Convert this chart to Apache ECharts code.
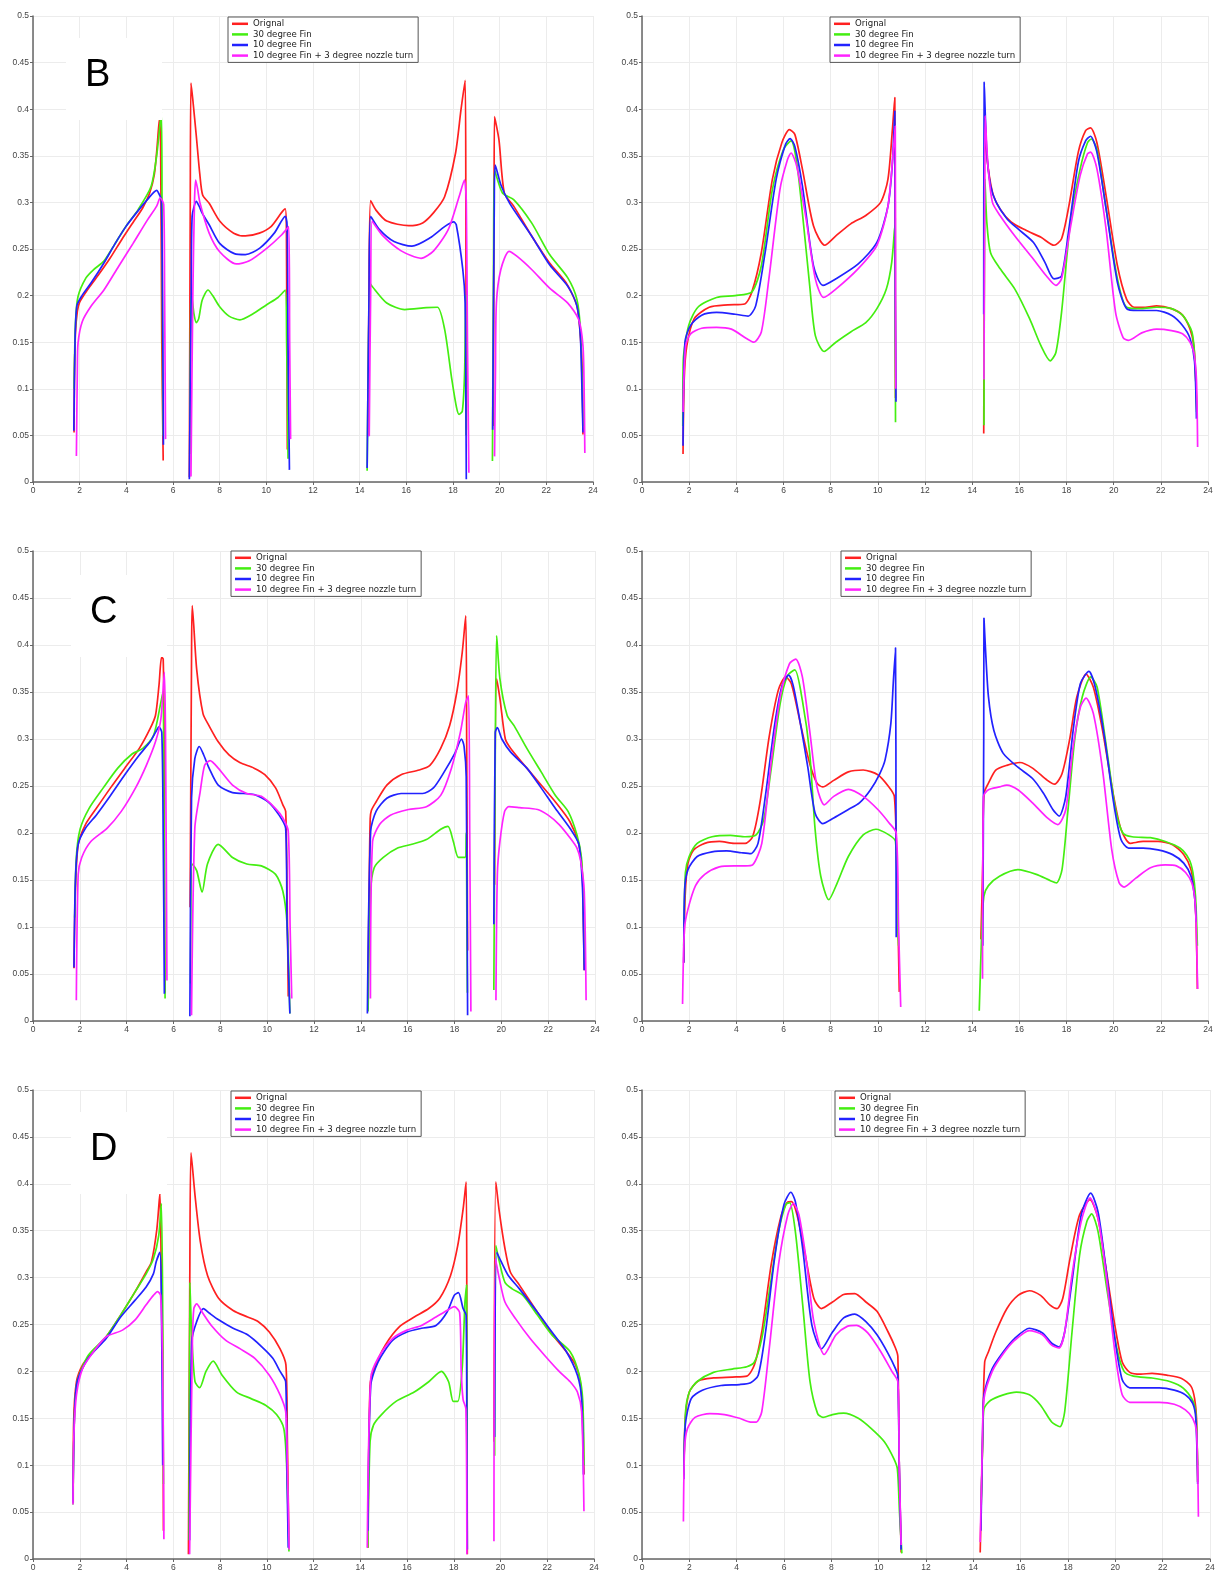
<!DOCTYPE html>
<html>
<head>
<meta charset="utf-8">
<script src="https://cdn.jsdelivr.net/npm/echarts@6.0.0/dist/echarts.min.js"></script>
<style>
  html, body { margin: 0; padding: 0; background: #ffffff; }
  #chart { width: 1222px; height: 1573px; }
</style>
</head>
<body>
<div id="chart"></div>
<script>
// ---- axis ticks and legend names ----
const xTicks = { min: 0, max: 24, step: 2 };
const yTicks = { min: 0, max: 0.5, step: 0.05 };
const seriesNames = ['Orignal', '30 degree Fin', '10 degree Fin', '10 degree Fin + 3 degree nozzle turn'];
const seriesColors = ['#ff2020', '#44ee11', '#2222ff', '#ff22ff'];
const panelLetters = ['B', '', 'C', '', 'D', ''];

// ---- panel B, left: each series is a list of separate segments of [x, y] ----
const bLeftOrignal = [
  [[1.76,0.053],[1.78,0.12],[1.82,0.16],[1.9,0.183],[2.0,0.193],[2.3,0.205],[2.8,0.222],[3.3,0.24],[3.8,0.26],[4.3,0.279],[4.7,0.294],[5.0,0.31],[5.2,0.33],[5.32,0.36],[5.42,0.39],[5.47,0.36],[5.52,0.15],[5.58,0.023]],
  [[6.7,0.005],[6.74,0.3],[6.77,0.428],[6.85,0.41],[7.0,0.371],[7.15,0.33],[7.27,0.308],[7.55,0.299],[8.0,0.28],[8.6,0.267],[9.1,0.264],[9.7,0.267],[10.2,0.274],[10.65,0.289],[10.81,0.293],[10.86,0.27],[10.9,0.035]],
  [[14.35,0.049],[14.4,0.2],[14.47,0.302],[14.69,0.292],[15.16,0.28],[16.1,0.275],[16.7,0.278],[17.17,0.289],[17.64,0.306],[18.11,0.353],[18.34,0.399],[18.52,0.431],[18.55,0.3],[18.57,0.056]],
  [[19.73,0.06],[19.76,0.3],[19.78,0.392],[19.97,0.367],[20.2,0.31],[20.6,0.296],[21.37,0.264],[22.14,0.235],[22.84,0.214],[23.31,0.189],[23.46,0.156],[23.54,0.121],[23.57,0.051]]
];
const bLeft30 = [
  [[1.76,0.1],[1.82,0.17],[1.93,0.199],[2.27,0.219],[2.6,0.228],[3.04,0.237],[3.5,0.255],[4.0,0.275],[4.5,0.292],[5.06,0.317],[5.3,0.35],[5.5,0.397],[5.53,0.3],[5.56,0.1],[5.58,0.05]],
  [[6.72,0.03],[6.76,0.19],[6.8,0.2],[6.9,0.18],[7.0,0.171],[7.1,0.175],[7.25,0.195],[7.5,0.206],[7.7,0.2],[8.0,0.188],[8.4,0.178],[8.87,0.174],[9.4,0.18],[10.0,0.19],[10.5,0.198],[10.81,0.206],[10.87,0.15],[10.93,0.025]],
  [[14.32,0.012],[14.38,0.15],[14.45,0.213],[14.53,0.21],[15.16,0.192],[15.93,0.185],[16.86,0.187],[17.33,0.1875],[17.64,0.164],[17.95,0.11],[18.15,0.08],[18.26,0.0725],[18.4,0.076],[18.5,0.12],[18.54,0.2],[18.56,0.05]],
  [[19.69,0.0225],[19.74,0.25],[19.78,0.335],[20.12,0.31],[20.6,0.303],[21.37,0.278],[22.14,0.244],[22.92,0.219],[23.31,0.196],[23.46,0.164],[23.54,0.099],[23.57,0.06]]
];
const bLeft10 = [
  [[1.75,0.055],[1.8,0.15],[1.88,0.189],[2.1,0.2],[2.5,0.214],[3.04,0.235],[3.5,0.255],[3.98,0.274],[4.44,0.289],[4.9,0.303],[5.3,0.313],[5.42,0.308],[5.5,0.303],[5.55,0.2],[5.59,0.04]],
  [[6.7,0.003],[6.78,0.2],[6.82,0.285],[7.0,0.301],[7.12,0.296],[7.24,0.289],[7.55,0.276],[8.0,0.256],[8.63,0.245],[9.1,0.244],[9.72,0.251],[10.34,0.267],[10.81,0.285],[10.89,0.274],[10.93,0.15],[10.99,0.013]],
  [[14.32,0.015],[14.4,0.2],[14.47,0.285],[14.84,0.271],[15.47,0.258],[16.24,0.253],[17.02,0.262],[17.64,0.274],[18.03,0.279],[18.14,0.276],[18.42,0.228],[18.52,0.192],[18.55,0.1],[18.57,0.003]],
  [[19.7,0.056],[19.77,0.3],[19.81,0.34],[20.05,0.319],[20.43,0.299],[21.37,0.264],[22.14,0.233],[22.92,0.21],[23.31,0.189],[23.46,0.156],[23.54,0.085],[23.57,0.053]]
];
const bLeft10Nozzle = [
  [[1.86,0.028],[1.9,0.12],[1.93,0.149],[2.11,0.172],[2.5,0.189],[3.04,0.206],[3.66,0.231],[4.29,0.256],[4.9,0.281],[5.3,0.296],[5.45,0.305],[5.6,0.298],[5.64,0.2],[5.68,0.046]],
  [[6.77,0.006],[6.85,0.2],[6.92,0.3],[6.97,0.324],[7.05,0.315],[7.16,0.299],[7.55,0.267],[8.0,0.247],[8.71,0.234],[9.25,0.237],[10.03,0.251],[10.65,0.265],[10.96,0.274],[11.0,0.15],[11.04,0.046]],
  [[14.41,0.049],[14.47,0.2],[14.53,0.28],[15.0,0.264],[15.78,0.248],[16.63,0.24],[17.17,0.248],[17.8,0.271],[18.26,0.306],[18.49,0.324],[18.57,0.3],[18.62,0.15],[18.68,0.01]],
  [[19.78,0.0275],[19.82,0.12],[19.86,0.192],[20.05,0.228],[20.4,0.2475],[20.75,0.242],[21.37,0.228],[22.14,0.208],[22.92,0.192],[23.39,0.174],[23.57,0.146],[23.62,0.1],[23.65,0.031]]
];

// ---- panel B, right ----
const bRightOrignal = [
  [[1.74,0.03],[1.79,0.11],[1.9,0.146],[2.21,0.175],[2.85,0.1875],[3.64,0.19],[4.35,0.191],[4.66,0.204],[5.06,0.246],[5.53,0.325],[5.93,0.364],[6.25,0.378],[6.48,0.373],[6.8,0.336],[7.27,0.275],[7.75,0.254],[8.22,0.264],[8.85,0.277],[9.49,0.286],[10.12,0.3],[10.43,0.325],[10.62,0.379],[10.72,0.4125],[10.74,0.2],[10.75,0.09]],
  [[14.49,0.052],[14.51,0.2],[14.54,0.39],[14.62,0.35],[14.86,0.311],[15.18,0.293],[15.65,0.279],[16.28,0.27],[16.92,0.2625],[17.47,0.254],[17.79,0.261],[18.1,0.296],[18.5,0.354],[18.81,0.377],[19.02,0.38],[19.29,0.364],[19.68,0.307],[20.16,0.232],[20.55,0.196],[20.87,0.1875],[21.34,0.1875],[21.82,0.189],[22.45,0.186],[22.92,0.179],[23.24,0.164],[23.4,0.146],[23.48,0.11],[23.53,0.075]]
];
const bRight30 = [
  [[1.73,0.06],[1.75,0.13],[1.98,0.168],[2.37,0.1875],[3.16,0.198],[3.95,0.2],[4.66,0.204],[5.06,0.232],[5.53,0.314],[6.0,0.357],[6.32,0.366],[6.56,0.343],[6.8,0.289],[7.11,0.211],[7.35,0.157],[7.72,0.14],[8.22,0.15],[8.85,0.161],[9.49,0.171],[9.96,0.186],[10.36,0.207],[10.59,0.236],[10.72,0.275],[10.74,0.15],[10.75,0.064]],
  [[14.5,0.061],[14.52,0.25],[14.54,0.325],[14.62,0.279],[14.78,0.246],[15.18,0.229],[15.81,0.207],[16.44,0.175],[16.92,0.146],[17.31,0.13],[17.55,0.139],[17.79,0.182],[18.18,0.282],[18.58,0.336],[18.89,0.364],[19.05,0.368],[19.29,0.357],[19.68,0.293],[20.16,0.218],[20.55,0.1875],[21.19,0.186],[21.82,0.1875],[22.45,0.186],[22.92,0.179],[23.32,0.161],[23.45,0.129],[23.52,0.075]]
];
const bRight10 = [
  [[1.74,0.039],[1.82,0.15],[2.06,0.168],[2.53,0.179],[3.16,0.182],[3.95,0.18],[4.5,0.178],[4.82,0.189],[5.22,0.246],[5.69,0.325],[6.09,0.3625],[6.28,0.3685],[6.48,0.36],[6.8,0.318],[7.27,0.232],[7.67,0.211],[8.22,0.218],[9.17,0.234],[9.96,0.257],[10.43,0.296],[10.62,0.343],[10.72,0.398],[10.74,0.2],[10.77,0.086]],
  [[14.49,0.18],[14.51,0.429],[14.62,0.354],[14.78,0.318],[15.02,0.3],[15.49,0.282],[15.97,0.271],[16.6,0.257],[17.08,0.236],[17.47,0.218],[17.79,0.221],[18.1,0.271],[18.5,0.343],[18.81,0.366],[19.02,0.371],[19.29,0.354],[19.68,0.293],[20.16,0.214],[20.55,0.186],[21.03,0.184],[21.82,0.184],[22.45,0.179],[22.92,0.168],[23.24,0.154],[23.43,0.129],[23.51,0.068]]
];
const bRight10Nozzle = [
  [[1.74,0.075],[1.85,0.146],[2.06,0.159],[2.53,0.165],[3.16,0.166],[3.79,0.164],[4.43,0.154],[4.74,0.15],[5.06,0.161],[5.38,0.218],[5.85,0.314],[6.17,0.346],[6.32,0.353],[6.56,0.339],[6.96,0.282],[7.35,0.218],[7.7,0.198],[8.22,0.207],[9.17,0.229],[9.96,0.254],[10.43,0.296],[10.67,0.36],[10.74,0.382],[10.75,0.2],[10.76,0.1]],
  [[14.5,0.11],[14.53,0.3],[14.55,0.393],[14.67,0.339],[14.86,0.3],[15.18,0.286],[15.81,0.264],[16.6,0.239],[17.15,0.221],[17.55,0.211],[17.79,0.218],[18.18,0.275],[18.58,0.329],[18.89,0.352],[19.02,0.354],[19.29,0.336],[19.68,0.271],[20.08,0.182],[20.4,0.155],[20.63,0.152],[21.19,0.16],[21.82,0.164],[22.45,0.1625],[22.92,0.159],[23.24,0.15],[23.4,0.139],[23.51,0.11],[23.56,0.0375]]
];

// ---- panel C, left ----
const cLeftOrignal = [
  [[1.75,0.056],[1.81,0.138],[1.93,0.188],[2.24,0.209],[2.7,0.226],[3.31,0.248],[3.92,0.269],[4.54,0.29],[5.0,0.311],[5.23,0.325],[5.38,0.357],[5.49,0.387],[5.56,0.385],[5.6,0.3],[5.62,0.1],[5.64,0.03]],
  [[6.71,0.121],[6.77,0.385],[6.8,0.442],[6.99,0.374],[7.26,0.327],[7.52,0.314],[7.91,0.297],[8.37,0.283],[8.83,0.275],[9.44,0.269],[9.9,0.262],[10.36,0.248],[10.67,0.23],[10.79,0.223],[10.85,0.138],[10.9,0.026]],
  [[14.3,0.026],[14.36,0.15],[14.4,0.215],[14.45,0.224],[14.65,0.233],[15.11,0.251],[15.72,0.262],[16.49,0.267],[16.95,0.272],[17.41,0.29],[17.79,0.314],[18.1,0.35],[18.33,0.392],[18.48,0.431],[18.52,0.3],[18.56,0.075]],
  [[19.71,0.145],[19.8,0.364],[19.94,0.343],[20.17,0.3],[20.4,0.29],[21.09,0.269],[21.7,0.251],[22.31,0.233],[22.93,0.212],[23.31,0.188],[23.46,0.156],[23.51,0.1],[23.54,0.054]]
];
const cLeft30 = [
  [[1.78,0.11],[1.85,0.174],[2.01,0.204],[2.39,0.226],[3.0,0.248],[3.62,0.269],[4.23,0.284],[4.69,0.29],[5.15,0.304],[5.46,0.339],[5.55,0.35],[5.6,0.2],[5.64,0.024]],
  [[6.73,0.04],[6.8,0.167],[6.99,0.16],[7.22,0.137],[7.45,0.167],[7.91,0.188],[8.52,0.174],[9.13,0.167],[9.75,0.165],[10.36,0.156],[10.67,0.138],[10.85,0.103],[10.97,0.008]],
  [[14.31,0.01],[14.42,0.138],[14.57,0.163],[14.96,0.174],[15.57,0.184],[16.18,0.188],[16.8,0.193],[17.41,0.204],[17.72,0.207],[17.95,0.191],[18.17,0.174],[18.45,0.174],[18.5,0.2],[18.53,0.1],[18.55,0.03]],
  [[19.68,0.033],[19.74,0.279],[19.8,0.41],[19.94,0.364],[20.25,0.325],[20.55,0.314],[21.09,0.29],[21.7,0.265],[22.31,0.24],[22.85,0.223],[23.23,0.198],[23.42,0.174],[23.5,0.13],[23.54,0.06]]
];
const cLeft10 = [
  [[1.75,0.057],[1.81,0.149],[1.93,0.188],[2.24,0.205],[2.7,0.219],[3.31,0.24],[3.92,0.262],[4.54,0.283],[5.0,0.297],[5.23,0.307],[5.38,0.313],[5.5,0.307],[5.56,0.2],[5.61,0.029]],
  [[6.7,0.005],[6.77,0.237],[6.91,0.279],[7.1,0.292],[7.29,0.283],[7.52,0.269],[7.91,0.251],[8.52,0.243],[9.44,0.241],[10.05,0.233],[10.51,0.219],[10.79,0.205],[10.85,0.103],[10.97,0.008]],
  [[14.28,0.008],[14.42,0.202],[14.65,0.223],[15.11,0.237],[15.72,0.242],[16.64,0.242],[17.1,0.248],[17.56,0.265],[18.02,0.285],[18.3,0.3],[18.41,0.292],[18.5,0.26],[18.56,0.006]],
  [[19.68,0.103],[19.74,0.307],[19.83,0.312],[20.02,0.3],[20.4,0.286],[21.09,0.269],[21.7,0.248],[22.31,0.226],[22.93,0.205],[23.31,0.188],[23.46,0.145],[23.51,0.093],[23.54,0.054]]
];
const cLeft10Nozzle = [
  [[1.85,0.022],[1.93,0.156],[2.08,0.174],[2.47,0.191],[3.16,0.205],[3.77,0.223],[4.38,0.248],[4.84,0.272],[5.23,0.297],[5.46,0.321],[5.61,0.371],[5.66,0.3],[5.72,0.043]],
  [[6.77,0.006],[6.91,0.205],[7.14,0.244],[7.33,0.272],[7.56,0.277],[7.91,0.269],[8.52,0.251],[9.13,0.242],[9.75,0.239],[10.36,0.226],[10.67,0.216],[10.9,0.202],[10.98,0.1],[11.05,0.024]],
  [[14.41,0.024],[14.5,0.191],[14.8,0.209],[15.26,0.219],[16.03,0.225],[16.8,0.228],[17.41,0.24],[17.87,0.269],[18.25,0.307],[18.48,0.339],[18.6,0.346],[18.65,0.2],[18.7,0.01]],
  [[19.77,0.022],[19.83,0.156],[19.94,0.191],[20.14,0.223],[20.32,0.228],[20.78,0.227],[21.55,0.225],[22.0,0.219],[22.47,0.209],[22.93,0.195],[23.23,0.184],[23.39,0.17],[23.54,0.138],[23.62,0.022]]
];

// ---- panel C, right ----
const cRightOrignal = [
  [[1.77,0.062],[1.83,0.133],[1.95,0.168],[2.19,0.182],[2.66,0.189],[3.28,0.191],[3.91,0.189],[4.38,0.189],[4.69,0.196],[5.0,0.232],[5.39,0.302],[5.78,0.352],[6.09,0.366],[6.33,0.359],[6.72,0.316],[7.11,0.274],[7.42,0.253],[7.66,0.249],[8.13,0.256],[8.75,0.265],[9.38,0.267],[10.0,0.262],[10.47,0.249],[10.7,0.239],[10.8,0.17],[10.91,0.031]],
  [[14.37,0.087],[14.45,0.168],[14.5,0.242],[14.69,0.253],[15.0,0.267],[15.47,0.272],[16.02,0.275],[16.56,0.269],[17.19,0.256],[17.5,0.252],[17.81,0.263],[18.13,0.299],[18.44,0.345],[18.83,0.369],[19.14,0.355],[19.53,0.309],[20.0,0.239],[20.31,0.204],[20.7,0.189],[21.25,0.191],[21.88,0.191],[22.5,0.1875],[22.97,0.177],[23.28,0.161],[23.44,0.133],[23.5,0.1],[23.55,0.034]]
];
const cRight30 = [
  [[1.77,0.08],[1.84,0.158],[2.0,0.175],[2.34,0.189],[2.97,0.196],[3.75,0.1975],[4.38,0.196],[4.84,0.198],[5.16,0.214],[5.47,0.267],[5.86,0.338],[6.17,0.3675],[6.48,0.3735],[6.8,0.341],[7.11,0.285],[7.34,0.204],[7.58,0.154],[7.92,0.129],[8.28,0.147],[8.75,0.175],[9.38,0.198],[9.92,0.204],[10.47,0.198],[10.75,0.191],[10.82,0.12],[10.88,0.08]],
  [[14.3,0.011],[14.41,0.098],[14.5,0.133],[14.69,0.144],[15.16,0.154],[15.94,0.161],[16.72,0.156],[17.34,0.149],[17.58,0.147],[17.81,0.161],[18.05,0.221],[18.36,0.302],[18.67,0.345],[19.03,0.366],[19.3,0.355],[19.69,0.292],[20.08,0.225],[20.39,0.2],[20.78,0.196],[21.56,0.195],[22.19,0.191],[22.81,0.184],[23.2,0.172],[23.36,0.158],[23.47,0.133],[23.55,0.08]]
];
const cRight10 = [
  [[1.77,0.062],[1.81,0.14],[1.95,0.161],[2.34,0.175],[2.97,0.18],[3.59,0.181],[4.22,0.179],[4.61,0.178],[4.92,0.189],[5.23,0.239],[5.63,0.316],[5.94,0.357],[6.22,0.368],[6.41,0.357],[6.72,0.316],[7.03,0.27],[7.34,0.221],[7.66,0.21],[8.13,0.216],[8.75,0.225],[9.22,0.232],[9.69,0.246],[10.08,0.263],[10.31,0.278],[10.55,0.316],[10.66,0.362],[10.75,0.397],[10.77,0.2],[10.78,0.089]],
  [[14.45,0.08],[14.49,0.3],[14.5,0.429],[14.56,0.398],[14.69,0.345],[14.92,0.309],[15.31,0.285],[15.94,0.27],[16.56,0.258],[17.03,0.242],[17.42,0.225],[17.69,0.218],[17.97,0.239],[18.28,0.309],[18.59,0.359],[18.95,0.372],[19.22,0.355],[19.61,0.302],[20.0,0.232],[20.31,0.193],[20.63,0.184],[21.25,0.184],[21.88,0.182],[22.5,0.177],[22.97,0.168],[23.28,0.154],[23.44,0.13],[23.5,0.105]]
];
const cRight10Nozzle = [
  [[1.72,0.018],[1.8,0.098],[1.95,0.119],[2.27,0.144],[2.66,0.156],[3.28,0.164],[3.91,0.165],[4.38,0.165],[4.69,0.166],[5.08,0.189],[5.47,0.274],[5.86,0.345],[6.25,0.38],[6.52,0.385],[6.8,0.366],[7.11,0.309],[7.42,0.249],[7.73,0.23],[8.13,0.239],[8.75,0.2465],[9.38,0.239],[10.0,0.225],[10.47,0.211],[10.78,0.2],[10.88,0.1],[10.97,0.015]],
  [[14.44,0.045],[14.48,0.239],[14.69,0.246],[15.16,0.249],[15.47,0.251],[15.94,0.246],[16.56,0.232],[17.19,0.216],[17.63,0.209],[17.97,0.225],[18.28,0.292],[18.59,0.334],[18.83,0.3435],[19.14,0.327],[19.53,0.267],[19.92,0.182],[20.23,0.147],[20.44,0.1425],[20.94,0.152],[21.56,0.163],[22.19,0.166],[22.66,0.165],[23.05,0.158],[23.31,0.147],[23.44,0.13],[23.5,0.1],[23.56,0.034]]
];

// ---- panel D, left ----
const dLeftOrignal = [
  [[1.72,0.06],[1.74,0.146],[1.86,0.189],[2.12,0.207],[2.51,0.219],[3.13,0.237],[3.75,0.26],[4.37,0.285],[4.84,0.306],[5.07,0.317],[5.3,0.352],[5.43,0.39],[5.49,0.3],[5.55,0.221],[5.58,0.03]],
  [[6.65,0.005],[6.71,0.31],[6.76,0.433],[6.93,0.388],[7.16,0.338],[7.47,0.302],[7.94,0.278],[8.56,0.265],[9.18,0.258],[9.64,0.253],[10.11,0.242],[10.57,0.224],[10.82,0.207],[10.88,0.13],[10.95,0.012]],
  [[14.33,0.012],[14.42,0.185],[14.6,0.203],[15.07,0.228],[15.69,0.248],[16.31,0.258],[16.93,0.267],[17.4,0.278],[17.86,0.302],[18.17,0.334],[18.4,0.373],[18.53,0.402],[18.56,0.25],[18.58,0.005]],
  [[19.72,0.125],[19.8,0.402],[19.95,0.37],[20.19,0.331],[20.42,0.306],[20.81,0.292],[21.58,0.263],[22.2,0.24],[22.82,0.221],[23.21,0.207],[23.41,0.189],[23.52,0.15],[23.57,0.09]]
];
const dLeft30 = [
  [[1.71,0.058],[1.77,0.15],[1.89,0.189],[2.36,0.217],[3.13,0.237],[3.75,0.26],[4.37,0.285],[4.84,0.304],[5.15,0.32],[5.38,0.345],[5.49,0.379],[5.55,0.26],[5.58,0.08]],
  [[6.68,0.02],[6.71,0.295],[6.79,0.239],[6.93,0.189],[7.13,0.1826],[7.4,0.2],[7.71,0.211],[8.09,0.196],[8.71,0.178],[9.33,0.171],[9.95,0.164],[10.42,0.154],[10.73,0.139],[10.85,0.1],[10.95,0.008]],
  [[14.33,0.012],[14.42,0.125],[14.57,0.143],[14.91,0.154],[15.53,0.168],[16.31,0.178],[16.93,0.189],[17.47,0.2],[17.78,0.189],[17.98,0.168],[18.17,0.168],[18.36,0.203],[18.48,0.274],[18.55,0.292],[18.57,0.05]],
  [[19.75,0.11],[19.8,0.334],[19.95,0.317],[20.19,0.295],[20.5,0.288],[20.96,0.281],[21.58,0.26],[22.2,0.239],[22.98,0.221],[23.37,0.196],[23.52,0.168],[23.57,0.1]]
];
const dLeft10 = [
  [[1.71,0.06],[1.77,0.15],[1.89,0.189],[2.36,0.214],[3.13,0.235],[3.75,0.258],[4.37,0.276],[4.84,0.29],[5.15,0.304],[5.27,0.317],[5.43,0.327],[5.49,0.281],[5.55,0.1]],
  [[6.7,0.02],[6.79,0.232],[7.0,0.253],[7.29,0.267],[7.55,0.262],[7.94,0.255],[8.56,0.246],[9.18,0.239],[9.8,0.226],[10.26,0.214],[10.57,0.2],[10.81,0.189],[10.86,0.1],[10.92,0.012]],
  [[14.33,0.03],[14.45,0.185],[14.76,0.21],[15.38,0.233],[16.0,0.242],[16.62,0.246],[17.24,0.249],[17.71,0.263],[18.02,0.281],[18.2,0.284],[18.4,0.267],[18.53,0.26],[18.56,0.13],[18.58,0.01]],
  [[19.75,0.13],[19.84,0.327],[20.03,0.317],[20.34,0.302],[20.81,0.288],[21.58,0.263],[22.2,0.242],[22.82,0.221],[23.29,0.196],[23.47,0.171],[23.55,0.09]]
];
const dLeft10Nozzle = [
  [[1.71,0.058],[1.75,0.132],[1.86,0.175],[2.12,0.203],[2.59,0.221],[3.13,0.237],[3.83,0.244],[4.37,0.255],[4.84,0.271],[5.15,0.281],[5.33,0.285],[5.46,0.281],[5.55,0.2],[5.6,0.021]],
  [[6.7,0.005],[6.82,0.232],[6.88,0.267],[7.0,0.272],[7.24,0.263],[7.63,0.249],[8.25,0.233],[8.87,0.224],[9.49,0.214],[10.11,0.196],[10.57,0.175],[10.81,0.157],[10.88,0.1],[10.96,0.01]],
  [[14.3,0.012],[14.45,0.193],[14.76,0.214],[15.38,0.235],[16.0,0.244],[16.62,0.249],[17.24,0.258],[17.71,0.265],[18.02,0.269],[18.25,0.263],[18.32,0.2],[18.4,0.17],[18.52,0.16],[18.56,0.005]],
  [[19.72,0.019],[19.78,0.32],[19.95,0.299],[20.19,0.274],[20.65,0.256],[21.27,0.235],[21.89,0.217],[22.51,0.2],[22.98,0.189],[23.29,0.178],[23.47,0.157],[23.57,0.051]]
];

// ---- panel D, right ----
const dRightOrignal = [
  [[1.77,0.089],[1.83,0.15],[2.0,0.178],[2.39,0.19],[3.02,0.193],[3.81,0.194],[4.43,0.195],[4.75,0.207],[5.06,0.242],[5.46,0.314],[5.85,0.363],[6.13,0.38],[6.32,0.381],[6.55,0.367],[6.87,0.328],[7.26,0.278],[7.58,0.267],[8.05,0.274],[8.52,0.282],[8.99,0.283],[9.46,0.274],[9.93,0.264],[10.4,0.242],[10.71,0.225],[10.81,0.216],[10.87,0.1],[10.95,0.007]],
  [[14.29,0.007],[14.4,0.136],[14.48,0.21],[14.64,0.221],[14.95,0.242],[15.42,0.267],[15.89,0.281],[16.37,0.286],[16.84,0.281],[17.23,0.271],[17.54,0.267],[17.78,0.278],[18.09,0.321],[18.49,0.367],[18.93,0.383],[19.27,0.363],[19.58,0.314],[19.98,0.249],[20.29,0.21],[20.61,0.199],[21.08,0.197],[21.55,0.198],[22.17,0.196],[22.8,0.1925],[23.2,0.184],[23.35,0.171],[23.43,0.15],[23.48,0.082]]
];
const dRight30 = [
  [[1.77,0.09],[1.84,0.157],[2.0,0.178],[2.32,0.189],[3.02,0.199],[3.81,0.2025],[4.43,0.205],[4.75,0.21],[5.06,0.235],[5.38,0.285],[5.77,0.349],[6.08,0.378],[6.24,0.38],[6.48,0.349],[6.79,0.271],[7.1,0.189],[7.42,0.155],[7.65,0.151],[8.05,0.154],[8.52,0.1555],[9.14,0.15],[9.69,0.139],[10.24,0.125],[10.64,0.107],[10.79,0.096],[10.88,0.05],[10.98,0.006]],
  [[14.32,0.05],[14.4,0.13],[14.45,0.16],[14.72,0.169],[15.27,0.175],[15.82,0.178],[16.37,0.175],[16.84,0.164],[17.31,0.146],[17.66,0.141],[17.86,0.157],[18.17,0.242],[18.49,0.324],[18.8,0.36],[19.0,0.368],[19.27,0.349],[19.66,0.285],[20.06,0.225],[20.37,0.2],[20.76,0.195],[21.55,0.193],[22.33,0.189],[22.88,0.182],[23.27,0.169],[23.4,0.155],[23.48,0.1]]
];
const dRight10 = [
  [[1.77,0.085],[1.83,0.143],[2.08,0.171],[2.55,0.18],[3.34,0.185],[4.12,0.186],[4.59,0.188],[4.91,0.196],[5.22,0.242],[5.62,0.324],[6.0,0.378],[6.29,0.391],[6.48,0.381],[6.79,0.331],[7.18,0.249],[7.58,0.224],[8.05,0.242],[8.52,0.257],[8.99,0.261],[9.46,0.253],[9.93,0.239],[10.4,0.219],[10.71,0.203],[10.81,0.195],[10.87,0.1],[10.95,0.01]],
  [[14.32,0.03],[14.4,0.143],[14.45,0.175],[14.8,0.203],[15.27,0.221],[15.74,0.235],[16.37,0.246],[16.92,0.241],[17.31,0.23],[17.62,0.226],[17.86,0.242],[18.17,0.296],[18.56,0.367],[18.96,0.39],[19.27,0.37],[19.58,0.314],[19.98,0.235],[20.29,0.191],[20.61,0.1825],[21.23,0.1825],[21.86,0.1825],[22.49,0.18],[22.96,0.175],[23.27,0.166],[23.4,0.15],[23.48,0.08]]
];
const dRight10Nozzle = [
  [[1.75,0.04],[1.8,0.118],[1.92,0.139],[2.24,0.151],[2.87,0.155],[3.49,0.154],[4.12,0.15],[4.59,0.146],[4.83,0.146],[5.06,0.157],[5.38,0.225],[5.77,0.314],[6.16,0.367],[6.4,0.379],[6.63,0.367],[6.95,0.317],[7.26,0.253],[7.7,0.218],[8.2,0.239],[8.67,0.248],[9.07,0.249],[9.54,0.241],[10.09,0.221],[10.56,0.2],[10.81,0.189],[10.87,0.1],[10.95,0.015]],
  [[14.29,0.018],[14.38,0.12],[14.45,0.171],[14.8,0.2],[15.27,0.219],[15.74,0.233],[16.37,0.2435],[16.92,0.239],[17.31,0.228],[17.62,0.225],[17.86,0.242],[18.17,0.303],[18.56,0.36],[18.93,0.385],[19.27,0.363],[19.58,0.31],[19.98,0.221],[20.29,0.175],[20.61,0.167],[21.23,0.167],[21.86,0.167],[22.49,0.165],[22.96,0.159],[23.27,0.15],[23.43,0.136],[23.51,0.045]]
];

// panels in reading order: B left, B right, C left, C right, D left, D right
const panelSeries = [
  [bLeftOrignal, bLeft30, bLeft10, bLeft10Nozzle],
  [bRightOrignal, bRight30, bRight10, bRight10Nozzle],
  [cLeftOrignal, cLeft30, cLeft10, cLeft10Nozzle],
  [cRightOrignal, cRight30, cRight10, cRight10Nozzle],
  [dLeftOrignal, dLeft30, dLeft10, dLeft10Nozzle],
  [dRightOrignal, dRight30, dRight10, dRight10Nozzle]
];

// ---- layout (pixels) ----
const gridLeft   = [33, 642, 33, 642, 33, 642];
const gridTop    = [16, 16, 551, 551, 1090, 1090];
const gridWidth  = [560, 566, 562, 566, 561, 568];
const gridHeight = [466, 466, 470, 470, 469, 469];
const legendLeft = [228, 830, 231, 841, 231, 835];
const legendTop  = [17, 17, 551, 551, 1091, 1091];
const letterPos  = [[85, 57], null, [90, 594], null, [90, 1131]];

const AXIS_COLOR = '#666';
const GRID_COLOR = '#ececec';
const LABEL_FONT = 'Liberation Sans, Arial, sans-serif';

// line breaks between segments
function joinSegments(segs) {
  const out = [];
  segs.forEach((seg, i) => {
    if (i > 0) out.push(['-', '-']);
    seg.forEach(p => out.push(p));
  });
  return out;
}

const grids = [], xAxes = [], yAxes = [], series = [], legends = [], graphics = [];

panelSeries.forEach((group, i) => {
  grids.push({ left: gridLeft[i], top: gridTop[i], width: gridWidth[i], height: gridHeight[i], containLabel: false });
  xAxes.push({
    type: 'value', gridIndex: i, min: xTicks.min, max: xTicks.max, interval: xTicks.step,
    axisLine: { show: true, onZero: false, lineStyle: { color: AXIS_COLOR, width: 1.5 } },
    axisTick: { show: true, length: 3, lineStyle: { color: AXIS_COLOR } },
    axisLabel: { fontSize: 8.5, color: '#444', margin: 4, fontFamily: LABEL_FONT },
    splitLine: { show: true, lineStyle: { color: GRID_COLOR, width: 1 } }
  });
  yAxes.push({
    type: 'value', gridIndex: i, min: yTicks.min, max: yTicks.max, interval: yTicks.step,
    axisLine: { show: true, onZero: false, lineStyle: { color: AXIS_COLOR, width: 1.5 } },
    axisTick: { show: true, length: 3, lineStyle: { color: AXIS_COLOR } },
    axisLabel: { fontSize: 8.5, color: '#444', margin: 4, fontFamily: LABEL_FONT,
                 formatter: v => String(+v.toFixed(2)) },
    splitLine: { show: true, lineStyle: { color: GRID_COLOR, width: 1 } }
  });
  group.forEach((segs, k) => {
    series.push({
      type: 'line', name: seriesNames[k], xAxisIndex: i, yAxisIndex: i,
      data: joinSegments(segs),
      showSymbol: false, symbol: 'none', smooth: 0.25, connectNulls: false,
      lineStyle: { width: 1.7, color: seriesColors[k] },
      itemStyle: { color: seriesColors[k] },
      z: 2 + k, animation: false, silent: true
    });
  });
  legends.push({
    data: seriesNames, orient: 'vertical', left: legendLeft[i], top: legendTop[i],
    icon: 'rect', itemWidth: 16, itemHeight: 2.5, itemGap: 1,
    padding: [2, 5, 2, 4], borderColor: '#555', borderWidth: 1, backgroundColor: '#fff',
    selectedMode: false,
    textStyle: { fontSize: 8.6, color: '#222', lineHeight: 9.6, fontFamily: 'DejaVu Sans, sans-serif' }
  });
  if (panelLetters[i]) {
    const [lx, ly] = letterPos[i];
    graphics.push({ type: 'rect', left: lx - 19, top: ly - 19, z: 5,
      shape: { width: 96, height: 82 }, style: { fill: '#fff' } });
    graphics.push({ type: 'text', left: lx, top: ly, z: 6,
      style: { text: panelLetters[i], fill: '#000', font: '38px "Liberation Sans", Arial, sans-serif' } });
  }
});

const chart = echarts.init(document.getElementById('chart'), null, { renderer: 'canvas' });
chart.setOption({
  backgroundColor: '#ffffff',
  animation: false,
  grid: grids, xAxis: xAxes, yAxis: yAxes, series: series,
  legend: legends, graphic: graphics
});
</script>
</body>
</html>
